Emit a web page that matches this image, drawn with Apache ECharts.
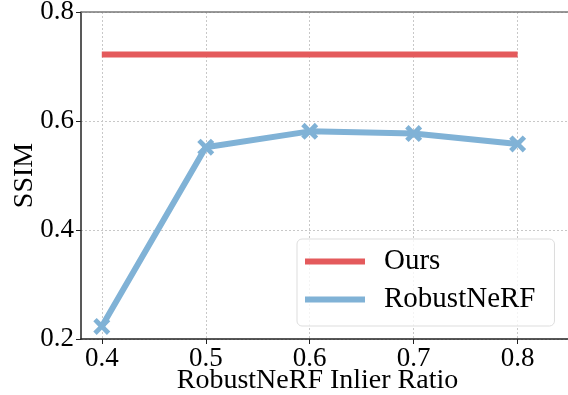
<!DOCTYPE html>
<html><head><meta charset="utf-8">
<script src="https://cdn.jsdelivr.net/npm/echarts@6/dist/echarts.min.js"></script>
<style>html,body{margin:0;padding:0;background:#fff}#c{width:568px;height:395px}</style>
</head><body><div id="c"></div>
<script>
var ratios = [0.4, 0.5, 0.6, 0.7, 0.8];
var oursSSIM = [0.722, 0.722, 0.722, 0.722, 0.722];
var robustSSIM = [0.223, 0.552, 0.581, 0.577, 0.558];
var xTicks = [0.4, 0.5, 0.6, 0.7, 0.8];
var yTicks = [0.2, 0.4, 0.6, 0.8];

var font = 'Liberation Serif';
var xMark = 'path://M0,4 L4,0 L10,6 L16,0 L20,4 L14,10 L20,16 L16,20 L10,14 L4,20 L0,16 L6,10 Z';
var chart = echarts.init(document.getElementById('c'), null, {renderer: 'canvas'});
chart.setOption({
  animation: false,
  grid: {left: 81, top: 12, width: 499, height: 327, containLabel: false, outerBoundsMode: 'none'},
  legend: {
    left: 297, top: 239, orient: 'vertical',
    itemWidth: 60, itemHeight: 6, itemGap: 9,
    padding: [8, 19, 12, 8],
    borderColor: '#dddddd', borderWidth: 1, borderRadius: 5,
    backgroundColor: 'rgba(255,255,255,0.8)',
    textStyle: {fontFamily: font, fontSize: 29, color: '#000', padding: [0, 0, 0, 14]},
    data: [{name: 'Ours', icon: 'rect'}, {name: 'RobustNeRF', icon: 'rect'}]
  },
  xAxis: {
    type: 'value', min: 0.38, max: 0.86,
    name: 'RobustNeRF Inlier Ratio', nameLocation: 'middle', nameGap: 28, nameMoveOverlap: false,
    nameTextStyle: {fontFamily: font, fontSize: 28, color: '#000', padding: [0, 26, 0, 0]},
    axisLine: {lineStyle: {color: '#222', width: 1.5}},
    axisTick: {show: true, customValues: xTicks, length: 5, lineStyle: {color: '#222'}},
    axisLabel: {customValues: xTicks, fontFamily: font, fontSize: 27, color: '#000', margin: 6,
      formatter: function (v) { return v.toFixed(1); }},
    splitLine: {show: true, lineStyle: {color: '#c8c8c8', type: [2, 2], width: 1}}
  },
  yAxis: {
    type: 'value', min: 0.2, max: 0.8, interval: 0.2,
    name: 'SSIM', nameLocation: 'middle', nameGap: 42, nameMoveOverlap: false,
    nameTextStyle: {fontFamily: font, fontSize: 28, color: '#000'},
    axisLine: {show: true, lineStyle: {color: '#222', width: 1.5}},
    axisTick: {show: true, length: 5, lineStyle: {color: '#222'}},
    axisLabel: {fontFamily: font, fontSize: 27, color: '#000', margin: 7,
      formatter: function (v) { return v.toFixed(1); }},
    splitLine: {show: true, lineStyle: {color: '#c8c8c8', type: [2, 2], width: 1}}
  },
  graphic: [{type: 'line', shape: {x1: 81, y1: 12, x2: 568, y2: 12}, style: {stroke: '#777', lineWidth: 1.5}, z: 10}],
  series: [
    {name: 'Ours', type: 'line', data: ratios.map(function (x, i) { return [x, oursSSIM[i]]; }),
      showSymbol: false, symbol: 'none', color: '#e45a5c', lineStyle: {width: 6, color: '#e45a5c'}, z: 3},
    {name: 'RobustNeRF', type: 'line', data: ratios.map(function (x, i) { return [x, robustSSIM[i]]; }),
      symbol: xMark, symbolSize: 17, color: '#80b2d6',
      itemStyle: {color: '#80b2d6', borderWidth: 0}, lineStyle: {width: 6, color: '#80b2d6'}, z: 4}
  ]
});
</script></body></html>
